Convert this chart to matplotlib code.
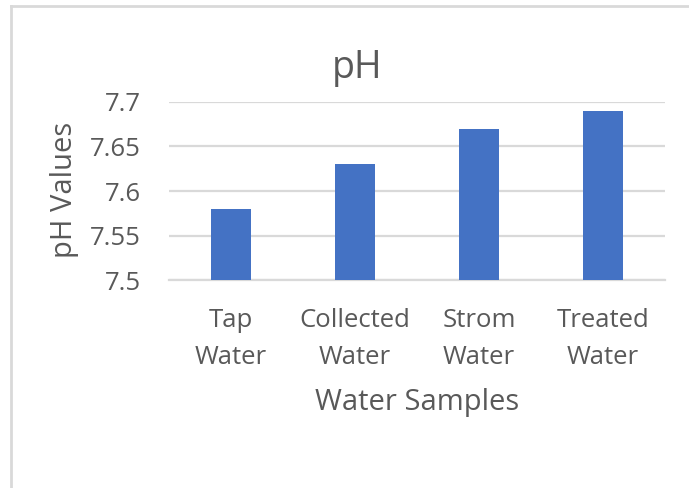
import numpy as np
import matplotlib.pyplot as plt
from matplotlib.lines import Line2D

plt.rcParams['font.family'] = ['Open Sans', 'DejaVu Sans']

# pH by sample type
samples = ['Tap\nWater', 'Collected\nWater', 'Strom\nWater', 'Treated\nWater']
ph_values = [7.58, 7.63, 7.67, 7.69]
y_ticks = [7.5, 7.55, 7.6, 7.65, 7.7]
y_tick_labels = ['7.5', '7.55', '7.6', '7.65', '7.7']

text_gray = '#595959'
grid_gray = '#D9D9D9'
bar_blue = '#4472C4'

fig = plt.figure(figsize=(6.89, 4.88), dpi=100)
ax = fig.add_axes([0.2453, 0.4262, 0.7199, 0.3648])

x = np.arange(len(samples))
ax.bar(x, ph_values, width=0.32, color=bar_blue, zorder=3)

ax.set_xlim(-0.5, len(samples) - 0.5)
ax.set_ylim(7.5, 7.7)
ax.set_yticks(y_ticks)
ax.set_yticklabels(y_tick_labels)
ax.set_xticks(x)
ax.set_xticklabels(samples, linespacing=1.65)

ax.grid(axis='y', color=grid_gray, linewidth=1.6, zorder=0)
for side in ['top', 'right', 'left']:
    ax.spines[side].set_visible(False)
ax.spines['bottom'].set_color(grid_gray)
ax.spines['bottom'].set_linewidth(1.6)
ax.tick_params(axis='both', length=0, labelsize=18.5, labelcolor=text_gray)
ax.tick_params(axis='x', pad=20)
ax.tick_params(axis='y', pad=20)

fig.text(357 / 689, 1 - 68 / 488, 'pH', fontsize=27, color=text_gray,
         ha='center', va='center')
ax.set_ylabel('pH Values', fontsize=21, color=text_gray, va='center')
ax.yaxis.set_label_coords(-0.21, 0.506)
ax.set_xlabel('Water Samples', fontsize=21, color=text_gray, va='center')
ax.xaxis.set_label_coords(0.5, -0.69)

# chart area frame (top and left edges)
fig.add_artist(Line2D([0.016, 1.0], [0.9877, 0.9877], color=grid_gray, linewidth=2))
fig.add_artist(Line2D([0.016, 0.016], [0.0, 0.9877], color=grid_gray, linewidth=2))

fig.savefig('out.png', dpi=100)
